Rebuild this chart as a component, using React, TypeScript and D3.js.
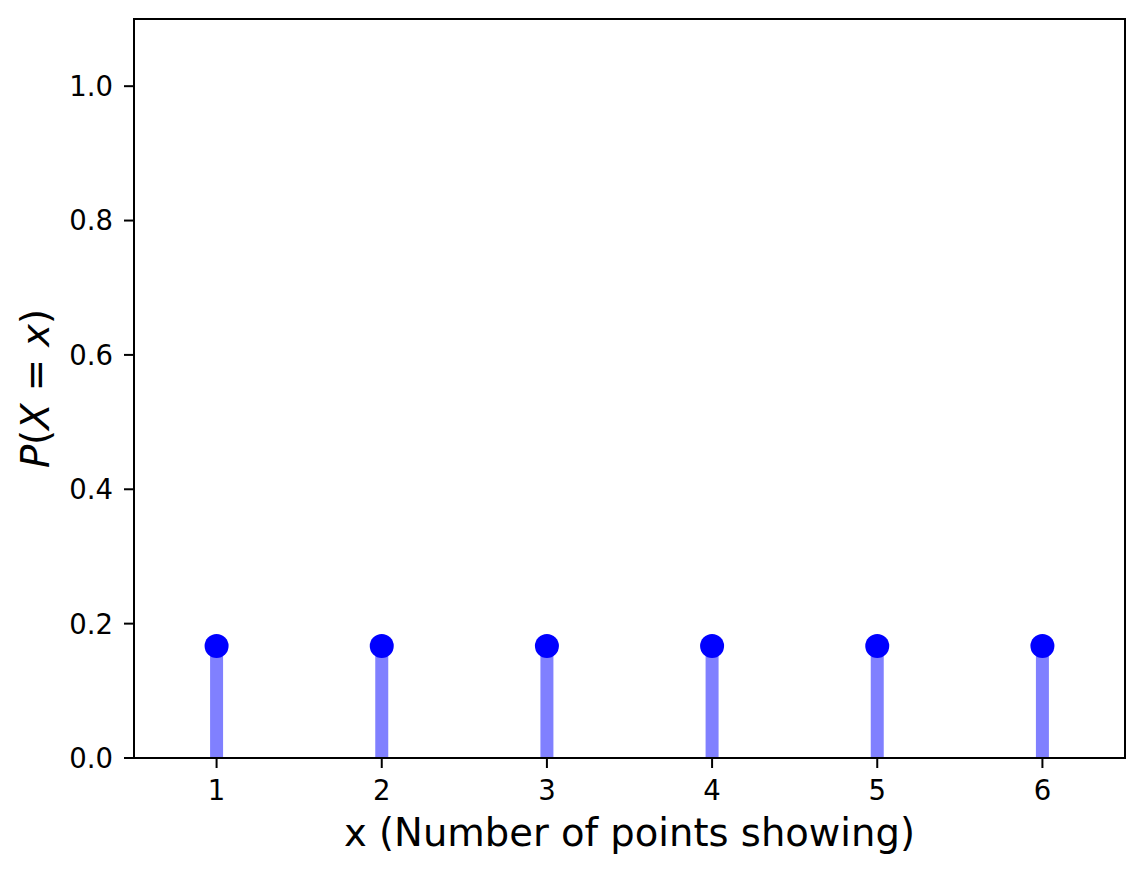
import React from "react";
import * as d3 from "d3";

const outcomes = [1, 2, 3, 4, 5, 6];
const probabilities = [1 / 6, 1 / 6, 1 / 6, 1 / 6, 1 / 6, 1 / 6];
const yTicks = [0.0, 0.2, 0.4, 0.6, 0.8, 1.0];
const xTicks = [1, 2, 3, 4, 5, 6];

const W = 1145;
const H = 875;
const left = 134;
const right = 1125;
const top = 19;
const bottom = 758;
const FONT = "'DejaVu Sans', sans-serif";

export default function App() {
  const x = d3.scaleLinear().domain([0.5, 6.5]).range([left, right]);
  const y = d3.scaleLinear().domain([0, 1.1]).range([bottom, top]);
  return (
    <svg width={W} height={H} style={{ position: "absolute", left: 0, top: 0, background: "#fff" }}>
      <rect x={0} y={0} width={W} height={H} fill="#fff" />
      {outcomes.map((o, i) => (
        <line key={"s" + i} x1={x(o)} x2={x(o)} y1={y(0)} y2={y(probabilities[i])} stroke="#8080ff" strokeWidth={13} />
      ))}
      {outcomes.map((o, i) => (
        <circle key={"c" + i} cx={x(o)} cy={y(probabilities[i])} r={12} fill="#0000ff" />
      ))}
      <rect x={left} y={top} width={right - left} height={bottom - top} fill="none" stroke="#000" strokeWidth={2} />
      {yTicks.map((t) => (
        <g key={"y" + t}>
          <line x1={left - 10} x2={left} y1={y(t)} y2={y(t)} stroke="#000" strokeWidth={2} />
          <text x={left - 21} y={y(t)} dy="0.36em" textAnchor="end" fontFamily={FONT} fontSize={27.5} fill="#000">
            {t.toFixed(1)}
          </text>
        </g>
      ))}
      {xTicks.map((t) => (
        <g key={"x" + t}>
          <line x1={x(t)} x2={x(t)} y1={bottom} y2={bottom + 10} stroke="#000" strokeWidth={2} />
          <text x={x(t)} y={bottom + 42} textAnchor="middle" fontFamily={FONT} fontSize={27.5} fill="#000">
            {t}
          </text>
        </g>
      ))}
      <text x={(left + right) / 2} y={846} textAnchor="middle" fontFamily={FONT} fontSize={38.5} fill="#000">
        x (Number of points showing)
      </text>
      <text transform={`translate(49, ${(top + bottom) / 2}) rotate(-90)`} textAnchor="middle" fontFamily={FONT} fontSize={38.5} fill="#000">
        <tspan fontStyle="italic">P</tspan>
        <tspan>(</tspan>
        <tspan fontStyle="italic">X</tspan>
        <tspan> = </tspan>
        <tspan fontStyle="italic">x</tspan>
        <tspan>)</tspan>
      </text>
    </svg>
  );
}
